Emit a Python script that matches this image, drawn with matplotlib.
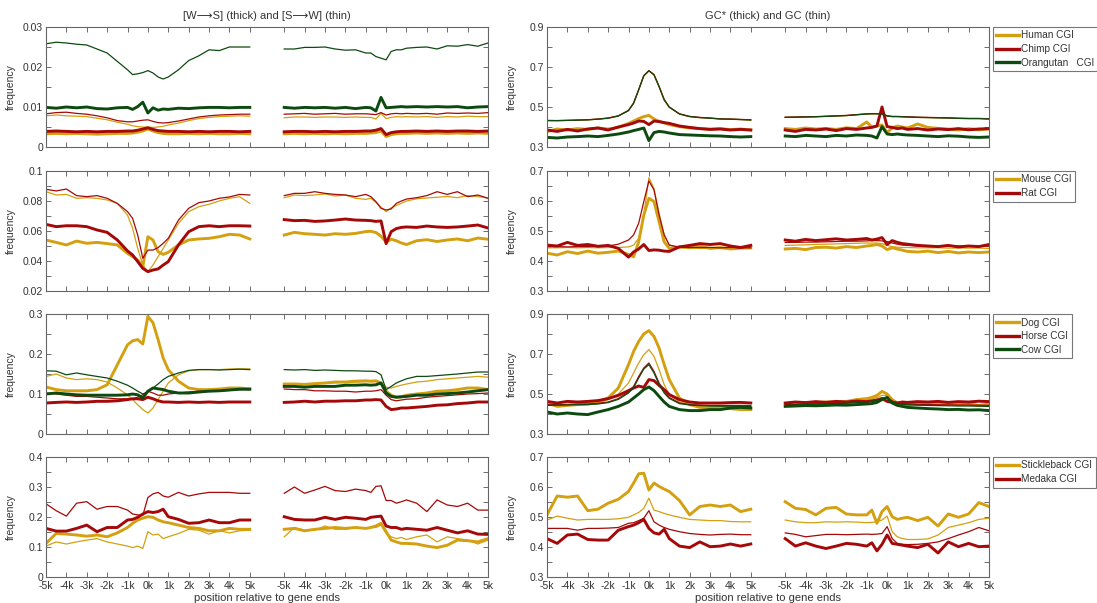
import matplotlib
matplotlib.use("Agg")
import matplotlib.pyplot as plt
from matplotlib.ticker import FixedLocator, NullFormatter

plt.rcParams["font.family"] = ["Liberation Sans", "DejaVu Sans"]
plt.rcParams["font.size"] = 7.5

# positions (kb) of the sampled points; each series = 25 values before the gap + 25 after
pos_kb = [-5, -4.5, -4, -3.5, -3, -2.5, -2, -1.5, -1, -0.75, -0.5, -0.25, 0,
          0.25, 0.5, 0.75, 1, 1.5, 2, 2.5, 3, 3.5, 4, 4.5, 5]
tick_kb = [-5, -4, -3, -2, -1, 0, 1, 2, 3, 4, 5]
tick_labels = ["-5k", "-4k", "-3k", "-2k", "-1k", "0k", "1k", "2k", "3k", "4k", "5k"]

# ---- primates: [W->S] (thick) / [S->W] (thin)
human_ws = [0.0033, 0.0034, 0.0033, 0.0034, 0.0033, 0.0032, 0.0033, 0.0034, 0.0034, 0.0035, 0.0037, 0.0040, 0.0045,
            0.0040, 0.0036, 0.0034, 0.0033, 0.0033, 0.0034, 0.0033, 0.0034, 0.0033, 0.0033, 0.0034, 0.0033,
            0.0033, 0.0034, 0.0033, 0.0034, 0.0033, 0.0034, 0.0033, 0.0034, 0.0034, 0.0035, 0.0036, 0.0040, 0.0026,
            0.0031, 0.0033, 0.0034, 0.0034, 0.0035, 0.0034, 0.0035, 0.0034, 0.0035, 0.0034, 0.0035, 0.0034]
chimp_ws = [0.0039, 0.0040, 0.0039, 0.0038, 0.0039, 0.0038, 0.0039, 0.0039, 0.0040, 0.0040, 0.0042, 0.0045, 0.0048,
            0.0044, 0.0041, 0.0040, 0.0039, 0.0039, 0.0038, 0.0039, 0.0038, 0.0039, 0.0039, 0.0038, 0.0039,
            0.0038, 0.0039, 0.0039, 0.0038, 0.0039, 0.0038, 0.0039, 0.0039, 0.0040, 0.0040, 0.0042, 0.0046, 0.0031,
            0.0036, 0.0038, 0.0039, 0.0039, 0.0040, 0.0039, 0.0040, 0.0039, 0.0040, 0.0040, 0.0039, 0.0040]
orang_ws = [0.0099, 0.0097, 0.0100, 0.0098, 0.0100, 0.0096, 0.0095, 0.0098, 0.0099, 0.0094, 0.0101, 0.0112, 0.0085,
            0.0098, 0.0092, 0.0095, 0.0094, 0.0097, 0.0096, 0.0098, 0.0099, 0.0099, 0.0098, 0.0099, 0.0099,
            0.0099, 0.0097, 0.0099, 0.0098, 0.0099, 0.0097, 0.0099, 0.0096, 0.0099, 0.0098, 0.0090, 0.0124, 0.0098,
            0.0099, 0.0100, 0.0101, 0.0100, 0.0101, 0.0100, 0.0101, 0.0100, 0.0101, 0.0098, 0.0100, 0.0101]
human_sw = [0.0078, 0.0080, 0.0078, 0.0077, 0.0076, 0.0072, 0.0068, 0.0062, 0.0057, 0.0053, 0.0051, 0.0050, 0.0050,
            0.0049, 0.0050, 0.0052, 0.0055, 0.0060, 0.0066, 0.0071, 0.0074, 0.0076, 0.0077, 0.0078, 0.0077,
            0.0073, 0.0075, 0.0075, 0.0074, 0.0075, 0.0075, 0.0074, 0.0075, 0.0074, 0.0074, 0.0070, 0.0084, 0.0071,
            0.0074, 0.0076, 0.0075, 0.0076, 0.0075, 0.0076, 0.0074, 0.0076, 0.0075, 0.0077, 0.0076, 0.0076]
chimp_sw = [0.0083, 0.0086, 0.0087, 0.0084, 0.0082, 0.0078, 0.0073, 0.0066, 0.0063, 0.0063, 0.0065, 0.0067, 0.0068,
            0.0064, 0.0061, 0.0060, 0.0061, 0.0065, 0.0070, 0.0075, 0.0078, 0.0080, 0.0081, 0.0082, 0.0082,
            0.0082, 0.0083, 0.0084, 0.0082, 0.0083, 0.0084, 0.0082, 0.0083, 0.0083, 0.0082, 0.0081, 0.0086, 0.0080,
            0.0083, 0.0084, 0.0083, 0.0084, 0.0083, 0.0084, 0.0082, 0.0085, 0.0084, 0.0085, 0.0084, 0.0086]
orang_sw = [0.0258, 0.0262, 0.0260, 0.0257, 0.0255, 0.0245, 0.0235, 0.0214, 0.0193, 0.0181, 0.0183, 0.0186, 0.0191,
            0.0185, 0.0175, 0.0170, 0.0175, 0.0193, 0.0216, 0.0228, 0.0243, 0.0241, 0.0250, 0.0250, 0.0250,
            0.0245, 0.0245, 0.0249, 0.0249, 0.0250, 0.0245, 0.0242, 0.0243, 0.0235, 0.0235, 0.0226, 0.0222, 0.0218,
            0.0239, 0.0243, 0.0243, 0.0247, 0.0249, 0.0250, 0.0245, 0.0253, 0.0252, 0.0256, 0.0252, 0.0260]

# ---- primates: GC* (thick) / GC (thin)
human_gcs = [0.377, 0.390, 0.385, 0.392, 0.388, 0.395, 0.390, 0.398, 0.418, 0.430, 0.442, 0.452, 0.458,
             0.440, 0.428, 0.420, 0.412, 0.402, 0.395, 0.392, 0.389, 0.392, 0.387, 0.390, 0.385,
             0.392, 0.388, 0.395, 0.390, 0.393, 0.388, 0.396, 0.392, 0.425, 0.400, 0.405, 0.410, 0.372,
             0.395, 0.405, 0.400, 0.395, 0.415, 0.398, 0.393, 0.390, 0.385, 0.392, 0.386, 0.390]
chimp_gcs = [0.385, 0.378, 0.388, 0.380, 0.390, 0.395, 0.385, 0.400, 0.412, 0.420, 0.430, 0.428, 0.412,
             0.430, 0.427, 0.422, 0.418, 0.405, 0.398, 0.392, 0.388, 0.390, 0.385, 0.388, 0.385,
             0.385, 0.378, 0.388, 0.385, 0.390, 0.382, 0.392, 0.388, 0.395, 0.398, 0.405, 0.500, 0.402,
             0.398, 0.392, 0.395, 0.388, 0.392, 0.385, 0.390, 0.387, 0.392, 0.386, 0.390, 0.392]
orang_gcs = [0.348, 0.345, 0.350, 0.352, 0.355, 0.352, 0.358, 0.365, 0.375, 0.382, 0.388, 0.395, 0.332,
             0.372, 0.378, 0.375, 0.370, 0.362, 0.360, 0.358, 0.356, 0.355, 0.352, 0.350, 0.352,
             0.355, 0.352, 0.358, 0.355, 0.352, 0.358, 0.355, 0.360, 0.358, 0.355, 0.345, 0.402, 0.365,
             0.362, 0.365, 0.362, 0.360, 0.358, 0.355, 0.352, 0.356, 0.354, 0.350, 0.348, 0.350]
human_gc = [0.432, 0.432, 0.433, 0.434, 0.436, 0.439, 0.444, 0.455, 0.482, 0.519, 0.586, 0.656, 0.681,
            0.661, 0.602, 0.536, 0.499, 0.465, 0.452, 0.447, 0.444, 0.440, 0.439, 0.437, 0.435,
            0.448, 0.449, 0.450, 0.451, 0.453, 0.455, 0.457, 0.461, 0.465, 0.466, 0.466, 0.465, 0.455,
            0.452, 0.452, 0.451, 0.450, 0.448, 0.447, 0.446, 0.445, 0.443, 0.442, 0.442, 0.440]
chimp_gc = [0.433, 0.432, 0.433, 0.435, 0.436, 0.440, 0.445, 0.456, 0.483, 0.520, 0.587, 0.657, 0.682,
            0.662, 0.603, 0.537, 0.500, 0.466, 0.453, 0.448, 0.445, 0.441, 0.440, 0.438, 0.436,
            0.449, 0.450, 0.451, 0.452, 0.454, 0.456, 0.458, 0.462, 0.466, 0.467, 0.467, 0.466, 0.456,
            0.453, 0.453, 0.452, 0.451, 0.449, 0.448, 0.447, 0.446, 0.444, 0.443, 0.443, 0.441]
orang_gc = [0.432, 0.432, 0.433, 0.434, 0.436, 0.439, 0.444, 0.455, 0.482, 0.519, 0.586, 0.656, 0.681,
            0.661, 0.602, 0.536, 0.499, 0.465, 0.452, 0.447, 0.444, 0.440, 0.439, 0.437, 0.435,
            0.448, 0.449, 0.450, 0.451, 0.453, 0.455, 0.457, 0.461, 0.465, 0.466, 0.466, 0.465, 0.455,
            0.452, 0.452, 0.451, 0.450, 0.448, 0.447, 0.446, 0.445, 0.443, 0.442, 0.442, 0.440]

# ---- rodents
mouse_ws = [0.0540, 0.0524, 0.0507, 0.0533, 0.0518, 0.0524, 0.0516, 0.0507, 0.0451, 0.0429, 0.0407, 0.0362, 0.0562,
            0.0540, 0.0462, 0.0444, 0.0458, 0.0507, 0.0540, 0.0547, 0.0551, 0.0562, 0.0578, 0.0573, 0.0547,
            0.0573, 0.0591, 0.0582, 0.0578, 0.0573, 0.0582, 0.0578, 0.0584, 0.0596, 0.0598, 0.0590, 0.0565, 0.0525,
            0.0545, 0.0535, 0.0520, 0.0510, 0.0535, 0.0542, 0.0530, 0.0540, 0.0547, 0.0535, 0.0553, 0.0545]
rat_ws = [0.0644, 0.0629, 0.0635, 0.0635, 0.0629, 0.0607, 0.0591, 0.0540, 0.0467, 0.0440, 0.0396, 0.0351, 0.0329,
          0.0340, 0.0347, 0.0373, 0.0396, 0.0507, 0.0595, 0.0629, 0.0635, 0.0629, 0.0635, 0.0635, 0.0633,
          0.0676, 0.0669, 0.0671, 0.0664, 0.0667, 0.0673, 0.0680, 0.0673, 0.0671, 0.0669, 0.0664, 0.0667, 0.0516,
          0.0596, 0.0616, 0.0624, 0.0627, 0.0624, 0.0633, 0.0627, 0.0624, 0.0627, 0.0633, 0.0640, 0.0620]
mouse_sw = [0.0862, 0.0840, 0.0844, 0.0818, 0.0822, 0.0818, 0.0807, 0.0784, 0.0706, 0.0618, 0.0484, 0.0373, 0.0329,
            0.0373, 0.0429, 0.0484, 0.0540, 0.0651, 0.0729, 0.0762, 0.0778, 0.0800, 0.0818, 0.0829, 0.0784,
            0.0822, 0.0840, 0.0836, 0.0840, 0.0847, 0.0833, 0.0840, 0.0818, 0.0811, 0.0818, 0.0790, 0.0760, 0.0729,
            0.0755, 0.0770, 0.0785, 0.0800, 0.0815, 0.0820, 0.0825, 0.0830, 0.0822, 0.0836, 0.0829, 0.0820]
rat_sw = [0.0878, 0.0867, 0.0880, 0.0836, 0.0829, 0.0836, 0.0818, 0.0784, 0.0729, 0.0684, 0.0573, 0.0418, 0.0473,
          0.0473, 0.0489, 0.0518, 0.0551, 0.0673, 0.0751, 0.0789, 0.0800, 0.0818, 0.0827, 0.0844, 0.0840,
          0.0836, 0.0851, 0.0851, 0.0862, 0.0851, 0.0844, 0.0840, 0.0829, 0.0844, 0.0829, 0.0796, 0.0751, 0.0740,
          0.0747, 0.0784, 0.0800, 0.0813, 0.0822, 0.0836, 0.0862, 0.0844, 0.0862, 0.0829, 0.0840, 0.0818]
mouse_gcs = [0.426, 0.420, 0.431, 0.425, 0.433, 0.426, 0.429, 0.433, 0.422, 0.414, 0.464, 0.553, 0.609,
             0.598, 0.531, 0.464, 0.442, 0.447, 0.444, 0.450, 0.442, 0.445, 0.440, 0.443, 0.444,
             0.440, 0.442, 0.438, 0.445, 0.446, 0.443, 0.448, 0.445, 0.450, 0.452, 0.455, 0.450, 0.438,
             0.444, 0.440, 0.436, 0.432, 0.430, 0.433, 0.428, 0.432, 0.427, 0.430, 0.428, 0.430]
rat_gcs = [0.453, 0.450, 0.462, 0.452, 0.455, 0.449, 0.452, 0.442, 0.413, 0.430, 0.440, 0.455, 0.435,
           0.437, 0.436, 0.433, 0.432, 0.447, 0.452, 0.458, 0.455, 0.458, 0.450, 0.445, 0.452,
           0.470, 0.466, 0.472, 0.468, 0.471, 0.474, 0.470, 0.472, 0.475, 0.470, 0.473, 0.478, 0.455,
           0.468, 0.462, 0.458, 0.456, 0.452, 0.450, 0.448, 0.452, 0.447, 0.450, 0.448, 0.455]
mouse_gc = [0.444, 0.444, 0.445, 0.444, 0.445, 0.444, 0.445, 0.445, 0.447, 0.453, 0.476, 0.553, 0.678,
            0.642, 0.559, 0.487, 0.453, 0.445, 0.443, 0.442, 0.442, 0.442, 0.441, 0.442, 0.441,
            0.452, 0.453, 0.454, 0.455, 0.456, 0.457, 0.458, 0.459, 0.460, 0.460, 0.460, 0.458, 0.452,
            0.448, 0.446, 0.445, 0.445, 0.444, 0.444, 0.444, 0.443, 0.443, 0.443, 0.443, 0.442]
rat_gc = [0.448, 0.448, 0.447, 0.448, 0.448, 0.449, 0.450, 0.456, 0.470, 0.487, 0.526, 0.598, 0.667,
          0.637, 0.553, 0.487, 0.453, 0.446, 0.445, 0.445, 0.445, 0.444, 0.445, 0.444, 0.444,
          0.462, 0.462, 0.463, 0.463, 0.464, 0.465, 0.466, 0.466, 0.467, 0.468, 0.468, 0.467, 0.465,
          0.460, 0.456, 0.453, 0.452, 0.450, 0.450, 0.449, 0.449, 0.450, 0.449, 0.450, 0.450]

# ---- dog / horse / cow
dog_ws = [0.1175, 0.111, 0.108, 0.108, 0.108, 0.111, 0.123, 0.173, 0.223, 0.233, 0.236, 0.225, 0.294,
          0.278, 0.236, 0.190, 0.161, 0.132, 0.115, 0.111, 0.111, 0.1125, 0.115, 0.115, 0.113,
          0.125, 0.125, 0.124, 0.126, 0.1275, 0.130, 0.130, 0.132, 0.133, 0.132, 0.133, 0.1275, 0.107,
          0.097, 0.092, 0.093, 0.097, 0.100, 0.1025, 0.107, 0.108, 0.111, 0.115, 0.115, 0.111]
horse_ws = [0.0775, 0.079, 0.080, 0.079, 0.080, 0.0817, 0.0817, 0.083, 0.086, 0.088, 0.088, 0.086, 0.092,
            0.088, 0.083, 0.080, 0.080, 0.079, 0.080, 0.079, 0.080, 0.079, 0.080, 0.080, 0.080,
            0.079, 0.080, 0.082, 0.080, 0.082, 0.082, 0.083, 0.083, 0.085, 0.085, 0.086, 0.085, 0.069,
            0.061, 0.0625, 0.065, 0.065, 0.067, 0.069, 0.072, 0.073, 0.076, 0.0775, 0.080, 0.080]
cow_ws = [0.100, 0.1025, 0.100, 0.098, 0.097, 0.097, 0.097, 0.097, 0.098, 0.100, 0.098, 0.090, 0.107,
          0.115, 0.113, 0.111, 0.107, 0.1025, 0.1025, 0.105, 0.107, 0.108, 0.110, 0.112, 0.112,
          0.119, 0.119, 0.117, 0.119, 0.119, 0.119, 0.122, 0.122, 0.123, 0.122, 0.123, 0.1275, 0.1025,
          0.094, 0.092, 0.093, 0.094, 0.097, 0.097, 0.100, 0.101, 0.1025, 0.105, 0.108, 0.111]
dog_sw = [0.144, 0.150, 0.140, 0.136, 0.138, 0.136, 0.130, 0.115, 0.098, 0.086, 0.073, 0.061, 0.0525,
          0.065, 0.086, 0.107, 0.1275, 0.148, 0.158, 0.161, 0.161, 0.161, 0.1625, 0.163, 0.163,
          0.122, 0.125, 0.124, 0.126, 0.127, 0.128, 0.129, 0.130, 0.131, 0.131, 0.131, 0.128, 0.117,
          0.115, 0.119, 0.122, 0.125, 0.130, 0.132, 0.136, 0.138, 0.140, 0.142, 0.144, 0.142]
horse_sw = [0.1025, 0.100, 0.097, 0.094, 0.094, 0.092, 0.090, 0.088, 0.088, 0.088, 0.092, 0.098, 0.107,
            0.1025, 0.097, 0.097, 0.100, 0.1025, 0.105, 0.107, 0.108, 0.108, 0.109, 0.111, 0.111,
            0.1125, 0.111, 0.111, 0.108, 0.108, 0.107, 0.107, 0.105, 0.107, 0.107, 0.108, 0.111, 0.097,
            0.086, 0.083, 0.085, 0.087, 0.088, 0.092, 0.094, 0.096, 0.098, 0.100, 0.101, 0.1025]
cow_sw = [0.158, 0.157, 0.148, 0.1525, 0.148, 0.144, 0.140, 0.132, 0.122, 0.115, 0.107, 0.100, 0.105,
          0.115, 0.125, 0.136, 0.144, 0.1525, 0.159, 0.161, 0.161, 0.160, 0.161, 0.162, 0.161,
          0.161, 0.160, 0.161, 0.159, 0.160, 0.159, 0.158, 0.158, 0.157, 0.157, 0.156, 0.148, 0.111,
          0.119, 0.1275, 0.133, 0.138, 0.144, 0.144, 0.146, 0.148, 0.150, 0.1525, 0.155, 0.155]
dog_gcs = [0.455, 0.438, 0.443, 0.447, 0.450, 0.460, 0.480, 0.530, 0.647, 0.713, 0.763, 0.800, 0.817,
           0.788, 0.730, 0.647, 0.572, 0.480, 0.447, 0.433, 0.430, 0.427, 0.427, 0.422, 0.422,
           0.447, 0.450, 0.455, 0.457, 0.460, 0.460, 0.463, 0.472, 0.477, 0.483, 0.493, 0.513, 0.500,
           0.472, 0.455, 0.447, 0.447, 0.450, 0.447, 0.450, 0.455, 0.447, 0.450, 0.443, 0.450]
horse_gcs = [0.463, 0.455, 0.463, 0.460, 0.463, 0.467, 0.477, 0.493, 0.517, 0.530, 0.540, 0.533, 0.572,
             0.567, 0.543, 0.522, 0.497, 0.472, 0.460, 0.455, 0.455, 0.455, 0.457, 0.458, 0.455,
             0.455, 0.460, 0.457, 0.462, 0.458, 0.463, 0.460, 0.465, 0.462, 0.466, 0.470, 0.477, 0.463,
             0.458, 0.455, 0.460, 0.458, 0.462, 0.460, 0.463, 0.458, 0.462, 0.460, 0.464, 0.462]
cow_gcs = [0.410, 0.400, 0.405, 0.400, 0.397, 0.410, 0.422, 0.438, 0.460, 0.480, 0.500, 0.522, 0.535,
           0.517, 0.488, 0.460, 0.438, 0.422, 0.417, 0.417, 0.422, 0.422, 0.430, 0.433, 0.430,
           0.438, 0.440, 0.442, 0.441, 0.443, 0.445, 0.444, 0.447, 0.450, 0.452, 0.458, 0.472, 0.483,
           0.455, 0.443, 0.438, 0.433, 0.430, 0.427, 0.425, 0.422, 0.423, 0.420, 0.421, 0.417]
dog_gc = [0.447, 0.447, 0.443, 0.447, 0.447, 0.455, 0.472, 0.500, 0.555, 0.605, 0.655, 0.697, 0.722,
          0.688, 0.622, 0.547, 0.497, 0.460, 0.447, 0.442, 0.438, 0.437, 0.435, 0.435, 0.433,
          0.447, 0.449, 0.451, 0.453, 0.455, 0.458, 0.462, 0.466, 0.472, 0.476, 0.482, 0.493, 0.493,
          0.472, 0.460, 0.457, 0.455, 0.452, 0.450, 0.449, 0.447, 0.446, 0.445, 0.444, 0.443]
horse_gc = [0.447, 0.447, 0.448, 0.449, 0.450, 0.453, 0.460, 0.477, 0.510, 0.538, 0.588, 0.630, 0.655,
            0.613, 0.555, 0.513, 0.483, 0.455, 0.447, 0.445, 0.443, 0.443, 0.443, 0.443, 0.442,
            0.447, 0.448, 0.450, 0.451, 0.452, 0.454, 0.456, 0.458, 0.462, 0.466, 0.472, 0.480, 0.483,
            0.465, 0.456, 0.452, 0.450, 0.448, 0.447, 0.446, 0.446, 0.445, 0.445, 0.444, 0.443]
cow_gc = [0.443, 0.444, 0.445, 0.446, 0.447, 0.450, 0.457, 0.473, 0.505, 0.532, 0.580, 0.625, 0.647,
          0.605, 0.548, 0.505, 0.478, 0.452, 0.445, 0.442, 0.440, 0.439, 0.439, 0.438, 0.438,
          0.443, 0.445, 0.447, 0.449, 0.450, 0.452, 0.454, 0.457, 0.460, 0.464, 0.470, 0.478, 0.482,
          0.462, 0.452, 0.448, 0.446, 0.444, 0.443, 0.442, 0.441, 0.440, 0.440, 0.439, 0.438]

# ---- fish
stickle_ws = [0.112, 0.145, 0.143, 0.140, 0.136, 0.140, 0.134, 0.147, 0.165, 0.179, 0.190, 0.196, 0.201,
              0.199, 0.190, 0.184, 0.181, 0.173, 0.165, 0.162, 0.154, 0.154, 0.162, 0.159, 0.159,
              0.159, 0.162, 0.154, 0.159, 0.162, 0.165, 0.162, 0.165, 0.162, 0.165, 0.170, 0.179, 0.151,
              0.123, 0.117, 0.112, 0.112, 0.110, 0.103, 0.098, 0.106, 0.123, 0.121, 0.117, 0.128]
medaka_ws = [0.162, 0.153, 0.153, 0.162, 0.173, 0.151, 0.165, 0.165, 0.190, 0.192, 0.199, 0.210, 0.218,
             0.215, 0.218, 0.226, 0.201, 0.192, 0.179, 0.181, 0.190, 0.181, 0.181, 0.190, 0.190,
             0.201, 0.192, 0.190, 0.190, 0.199, 0.192, 0.199, 0.196, 0.192, 0.199, 0.201, 0.203, 0.170,
             0.165, 0.165, 0.159, 0.162, 0.159, 0.156, 0.165, 0.156, 0.147, 0.154, 0.143, 0.142]
stickle_sw = [0.103, 0.117, 0.110, 0.117, 0.123, 0.128, 0.117, 0.110, 0.103, 0.098, 0.103, 0.095, 0.151,
              0.140, 0.143, 0.128, 0.134, 0.145, 0.159, 0.156, 0.143, 0.154, 0.147, 0.154, 0.156,
              0.134, 0.165, 0.156, 0.156, 0.170, 0.159, 0.159, 0.165, 0.162, 0.165, 0.165, 0.173, 0.145,
              0.134, 0.128, 0.132, 0.125, 0.134, 0.140, 0.117, 0.134, 0.128, 0.123, 0.110, 0.123]
medaka_sw = [0.244, 0.221, 0.203, 0.246, 0.251, 0.226, 0.235, 0.235, 0.223, 0.210, 0.207, 0.205, 0.265,
             0.277, 0.282, 0.270, 0.266, 0.282, 0.270, 0.277, 0.282, 0.282, 0.282, 0.279, 0.279,
             0.279, 0.300, 0.279, 0.290, 0.302, 0.288, 0.285, 0.293, 0.288, 0.282, 0.302, 0.304, 0.255,
             0.255, 0.246, 0.251, 0.257, 0.246, 0.218, 0.257, 0.240, 0.235, 0.246, 0.223, 0.223]
stickle_gcs = [0.507, 0.570, 0.566, 0.570, 0.521, 0.526, 0.546, 0.559, 0.585, 0.613, 0.644, 0.646, 0.590,
               0.613, 0.602, 0.593, 0.585, 0.555, 0.507, 0.535, 0.540, 0.535, 0.540, 0.518, 0.526,
               0.551, 0.529, 0.525, 0.507, 0.529, 0.532, 0.510, 0.507, 0.507, 0.523, 0.479, 0.518, 0.535,
               0.501, 0.492, 0.496, 0.499, 0.488, 0.499, 0.470, 0.510, 0.499, 0.510, 0.548, 0.535]
medaka_gcs = [0.428, 0.412, 0.440, 0.443, 0.425, 0.423, 0.423, 0.456, 0.468, 0.473, 0.481, 0.492, 0.462,
              0.447, 0.443, 0.459, 0.428, 0.403, 0.398, 0.417, 0.401, 0.403, 0.410, 0.403, 0.410,
              0.428, 0.403, 0.414, 0.403, 0.395, 0.403, 0.412, 0.409, 0.403, 0.414, 0.387, 0.409, 0.440,
              0.412, 0.409, 0.406, 0.403, 0.398, 0.409, 0.380, 0.417, 0.401, 0.412, 0.401, 0.403]
stickle_gc = [0.490, 0.503, 0.496, 0.490, 0.492, 0.492, 0.492, 0.494, 0.499, 0.507, 0.515, 0.529, 0.563,
              0.523, 0.518, 0.512, 0.507, 0.499, 0.492, 0.490, 0.488, 0.488, 0.485, 0.484, 0.484,
              0.490, 0.484, 0.481, 0.481, 0.484, 0.483, 0.484, 0.483, 0.481, 0.482, 0.484, 0.490, 0.503,
              0.451, 0.434, 0.428, 0.425, 0.425, 0.427, 0.440, 0.465, 0.473, 0.481, 0.492, 0.496]
medaka_gc = [0.462, 0.462, 0.462, 0.456, 0.462, 0.462, 0.463, 0.465, 0.479, 0.481, 0.488, 0.496, 0.521,
             0.484, 0.473, 0.465, 0.459, 0.451, 0.445, 0.442, 0.440, 0.442, 0.443, 0.441, 0.441,
             0.447, 0.442, 0.434, 0.438, 0.442, 0.442, 0.441, 0.442, 0.443, 0.442, 0.443, 0.445, 0.468,
             0.428, 0.412, 0.409, 0.408, 0.409, 0.412, 0.417, 0.428, 0.440, 0.451, 0.465, 0.454]

# y ticks per panel: labelled ones and the unlabelled in-between ones
yt_primate_l = [0, 0.01, 0.02, 0.03]
yt_rodent_l = [0.02, 0.04, 0.06, 0.08, 0.1]
yt_laur_l = [0, 0.1, 0.2, 0.3]
yt_fish_l = [0, 0.1, 0.2, 0.3, 0.4]
yt_gc_wide = [0.3, 0.5, 0.7, 0.9]
yt_gc_narrow = [0.3, 0.4, 0.5, 0.6, 0.7]

GOLD = "#d4a010"
RED = "#a50808"
GREEN = "#0d4a10"
THICK = 2.1
THIN = 0.9
GAP = 11.69  # right block starts this many kb after the left one

rows = [
    dict(species=[("Human CGI", GOLD, human_ws, human_sw, human_gcs, human_gc),
                  ("Chimp CGI", RED, chimp_ws, chimp_sw, chimp_gcs, chimp_gc),
                  ("Orangutan   CGI", GREEN, orang_ws, orang_sw, orang_gcs, orang_gc)],
         yt_l=yt_primate_l, yt_r=yt_gc_wide),
    dict(species=[("Mouse CGI", GOLD, mouse_ws, mouse_sw, mouse_gcs, mouse_gc),
                  ("Rat CGI", RED, rat_ws, rat_sw, rat_gcs, rat_gc)],
         yt_l=yt_rodent_l, yt_r=yt_gc_narrow),
    dict(species=[("Dog CGI", GOLD, dog_ws, dog_sw, dog_gcs, dog_gc),
                  ("Horse CGI", RED, horse_ws, horse_sw, horse_gcs, horse_gc),
                  ("Cow CGI", GREEN, cow_ws, cow_sw, cow_gcs, cow_gc)],
         yt_l=yt_laur_l, yt_r=yt_gc_wide),
    dict(species=[("Stickleback CGI", GOLD, stickle_ws, stickle_sw, stickle_gcs, stickle_gc),
                  ("Medaka CGI", RED, medaka_ws, medaka_sw, medaka_gcs, medaka_gc)],
         yt_l=yt_fish_l, yt_r=yt_gc_narrow),
]


def draw(ax, vals, color, lw):
    ax.plot(pos_kb, vals[:25], color=color, lw=lw, solid_joinstyle="round")
    ax.plot([p + GAP for p in pos_kb], vals[25:], color=color, lw=lw, solid_joinstyle="round")


def style(ax, yt, bottom):
    ax.set_xlim(-5, 5 + GAP)
    ax.set_ylim(yt[0], yt[-1])
    ax.xaxis.set_major_locator(FixedLocator(tick_kb + [t + GAP for t in tick_kb]))
    if bottom:
        ax.set_xticklabels(tick_labels + tick_labels)
    else:
        ax.xaxis.set_major_formatter(NullFormatter())
    # minor ticks halfway between labelled ones
    ax.yaxis.set_major_locator(FixedLocator(yt))
    ax.yaxis.set_minor_locator(FixedLocator([(a + b) / 2 for a, b in zip(yt[:-1], yt[1:])]))
    ax.set_yticklabels([f"{v:g}" for v in yt])
    ax.tick_params(which="both", direction="in", top=True, right=True, length=3.5,
                   width=0.6, color="#555555", labelcolor="#333333", labelsize=7.5, pad=2)
    ax.tick_params(axis="x", pad=3)
    for s in ax.spines.values():
        s.set_color("#666666")
        s.set_linewidth(0.8)
    ax.set_ylabel("frequency", fontsize=7.5, color="#333333")
    ax.yaxis.set_label_coords(-0.068, 0.5)
    if bottom:
        ax.set_xlabel("position relative to gene ends", fontsize=8, color="#333333", labelpad=1)


fig = plt.figure(figsize=(10.97, 6.03), dpi=100)
W, H = 1097, 603
row_top = [27, 171, 314, 457]

for i, row in enumerate(rows):
    y0 = 1 - (row_top[i] + 120) / H
    axl = fig.add_axes([46 / W, y0, 442 / W, 120 / H])
    axr = fig.add_axes([547 / W, y0, 442 / W, 120 / H])
    bottom = i == len(rows) - 1
    handles = []
    for name, color, ws, sw, gcs, gc in row["species"]:
        draw(axl, ws, color, THICK)
        draw(axl, sw, color, THIN)
        draw(axr, gcs, color, THICK)
        draw(axr, gc, color, THIN)
        handles.append(plt.Line2D([], [], color=color, lw=2.4, label=name))
    style(axl, row["yt_l"], bottom)
    style(axr, row["yt_r"], bottom)
    leg = axr.legend(handles=handles, loc="upper left", bbox_to_anchor=(1.008, 1.0),
                     borderaxespad=0, fontsize=7.2, frameon=True, fancybox=False,
                     handlelength=2.3, handletextpad=0.2, borderpad=0.35, labelspacing=0.35)
    leg.get_frame().set_edgecolor("#555555")
    leg.get_frame().set_linewidth(0.8)
    for t in leg.get_texts():
        t.set_color("#333333")
    if i == 0:
        axl.set_title("[W\u27f6S] (thick) and [S\u27f6W] (thin)", fontsize=8, color="#333333", pad=6)
        axr.set_title("GC* (thick) and GC (thin)", fontsize=8, color="#333333", pad=6)

fig.savefig("out.png", dpi=100)
